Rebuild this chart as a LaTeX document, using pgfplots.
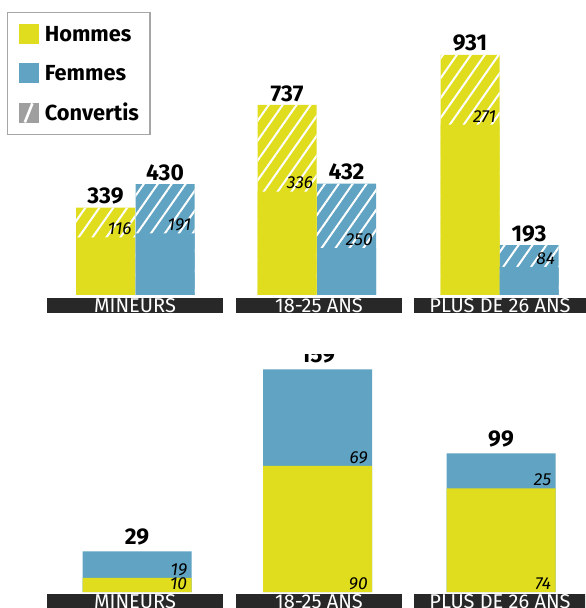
\documentclass[border=0pt]{standalone}
\usepackage{fontspec}
\setmainfont{Fira Sans}
\usepackage{pgfplots}
\pgfplotsset{compat=1.18}
\usepackage{pgfplotstable}
\usetikzlibrary{patterns.meta}
\definecolor{hcol}{RGB}{224,221,30}
\definecolor{fcol}{RGB}{96,163,194}
\definecolor{barc}{RGB}{40,40,40}

\pgfplotstableread{
x total conv base
105.5 339 116 223
287 737 336 401
470 931 271 660
}\topH
\pgfplotstableread{
x total conv base
165 430 191 239
346.5 432 250 182
529 193 84 109
}\topF
\pgfplotstableread{
x h f total zero
137 10 19 29 0
317.5 90 69 159 0
501 74 25 99 0
}\bottomT

\pgfplotsset{
 panel/.style={x=0.5pt, xmin=0, xmax=585, ymin=0, enlargelimits=false,
   /pgf/number format/assume math mode=true,
   axis line style={draw=none}, tick style={draw=none}, major tick length=0pt,
   ytick=\empty, clip=false, anchor=south west,
   xtick={135,319,500},
   xticklabels={\makebox[88pt]{MINEURS},\makebox[83pt]{18-25 ANS},\makebox[86pt]{PLUS DE 26 ANS}},
   xticklabel style={fill=barc, text=white, inner xsep=0pt, inner ysep=0pt,
     text height=7pt, text depth=0.5pt, anchor=north, font=\fontsize{10}{10}\selectfont}},
 hatch/.style={ybar, bar width=29.5pt, bar shift=0pt, draw=none, fill=#1,
   postaction={pattern={Lines[angle=55,distance=5.7pt,line width=1pt]}, pattern color=white}, forget plot},
 solid/.style={ybar, bar width=#1, bar shift=0pt, draw=none, forget plot},
 totlab/.style={draw=none, mark=none, forget plot, nodes near coords,
   nodes near coords style={font=\bfseries\fontsize{11.4}{12}\selectfont, anchor=south, inner sep=0pt, yshift=#1, text=black}},
 convlab/.style={draw=none, mark=none, forget plot, nodes near coords, point meta=explicit,
   nodes near coords style={font=\itshape\fontsize{8.7}{9}\selectfont, anchor=south east, inner sep=0pt, xshift=#1, yshift=1pt, text=black}},
}

\begin{document}
\begin{tikzpicture}
\useasboundingbox (0,0) rectangle (292.5pt,304pt);
\begin{axis}[panel, y=0.129pt, ymax=1143.4, at={(0pt,156.5pt)},
  xticklabel style={yshift=-1.5pt},
  legend style={at={(rel axis cs:0.012,0.959)}, anchor=north west, draw=gray!70, line width=0.6pt,
    fill=white, inner xsep=5.5pt, inner ysep=5.5pt, row sep=9.5pt, column sep=3pt,
    font=\bfseries\fontsize{10.9}{12}\selectfont,
    nodes={inner sep=0pt, text height=8pt, text depth=0pt}},
  legend cell align=left]
\addlegendimage{legend image code/.code={\fill[hcol] (0pt,-4.75pt) rectangle (9.5pt,4.75pt);}}
\addlegendentry{Hommes}
\addlegendimage{legend image code/.code={\fill[fcol] (0pt,-4.75pt) rectangle (9.5pt,4.75pt);}}
\addlegendentry{Femmes}
\addlegendimage{legend image code/.code={\fill[gray!75] (0pt,-4.75pt) rectangle (9.5pt,4.75pt);
   \draw[white, line width=1.3pt] (2.8pt,-4.75pt) -- (6.6pt,4.75pt);}}
\addlegendentry{Convertis}

\addplot[hatch=hcol] table[x=x, y=total] {\topH};
\addplot[hatch=fcol] table[x=x, y=total] {\topF};
\addplot[solid=29.5pt, fill=hcol] table[x=x, y=base] {\topH};
\addplot[solid=29.5pt, fill=fcol] table[x=x, y=base] {\topF};
\addplot[totlab=1.5pt] table[x=x, y=total] {\topH};
\addplot[totlab=1.5pt] table[x=x, y=total] {\topF};
\addplot[convlab=13.25pt] table[x=x, y=base, meta=conv] {\topH};
\addplot[convlab=13.25pt] table[x=x, y=base, meta=conv] {\topF};
\end{axis}

\begin{scope}
\clip (0,0) rectangle (292.5pt,126.5pt);
\begin{axis}[panel, y=0.70pt, ymax=200, at={(0pt,8pt)},
  xticklabel style={yshift=-1pt}]
\addplot[solid=54.5pt, fill=fcol] table[x=x, y=total] {\bottomT};
\addplot[solid=54.5pt, fill=hcol] table[x=x, y=h] {\bottomT};
\addplot[totlab=2.75pt] table[x=x, y=total] {\bottomT};
\addplot[convlab=25.25pt] table[x=x, y=h, meta=f] {\bottomT};
\addplot[convlab=25.25pt] table[x=x, y=zero, meta=h] {\bottomT};
\end{axis}
\end{scope}
\end{tikzpicture}
\end{document}
